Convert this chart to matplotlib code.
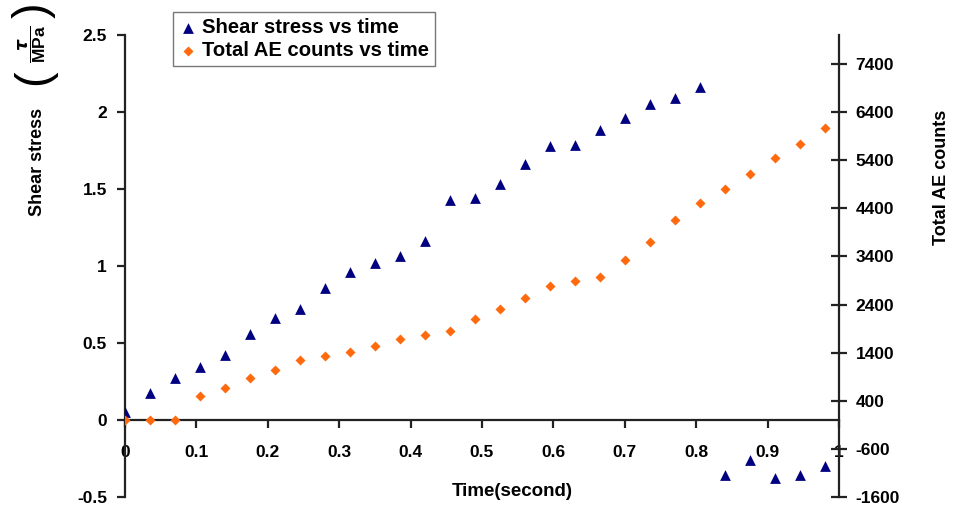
import matplotlib
matplotlib.use("Agg")
import matplotlib.pyplot as plt
from matplotlib.ticker import FixedLocator

plt.rcParams['font.family'] = 'Liberation Sans'
plt.rcParams['font.weight'] = 'bold'
plt.rcParams['mathtext.fontset'] = 'custom'
plt.rcParams['mathtext.rm'] = 'Liberation Sans'
plt.rcParams['mathtext.bf'] = 'Liberation Sans:bold'

# data
time_s = [0.0, 0.035, 0.07, 0.105, 0.14, 0.175, 0.21, 0.245, 0.28, 0.315,
          0.35, 0.385, 0.42, 0.455, 0.49, 0.525, 0.56, 0.595, 0.63, 0.665,
          0.70, 0.735, 0.77, 0.805, 0.84, 0.875, 0.91, 0.945, 0.98]
shear_mpa = [0.05, 0.175, 0.27, 0.345, 0.425, 0.56, 0.665, 0.72, 0.86, 0.96,
             1.02, 1.065, 1.16, 1.43, 1.44, 1.53, 1.665, 1.78, 1.785, 1.885,
             1.96, 2.05, 2.09, 2.165, -0.36, -0.26, -0.375, -0.355, -0.30]
ae_counts = [0, 0, 0, 500, 675, 865, 1040, 1240, 1325, 1415,
             1545, 1680, 1760, 1850, 2095, 2315, 2535, 2775, 2885, 2975,
             3325, 3690, 4160, 4500, 4795, 5110, 5435, 5745, 6070]

left_ticks = [-0.5, 0, 0.5, 1, 1.5, 2, 2.5]
left_labels = ['-0.5', '0', '0.5', '1', '1.5', '2', '2.5']
right_ticks = [-1600, -600, 400, 1400, 2400, 3400, 4400, 5400, 6400, 7400]
x_ticks = [0, 0.1, 0.2, 0.3, 0.4, 0.5, 0.6, 0.7, 0.8, 0.9, 1.0]
x_labels = ['0', '0.1', '0.2', '0.3', '0.4', '0.5', '0.6', '0.7', '0.8', '0.9', '1']

navy = '#000080'
orange = '#FF6A0F'
spine_col = '#222222'

fig = plt.figure(figsize=(9.56, 5.08), dpi=100)
ax = fig.add_axes([125 / 956, 1 - 497 / 508, (839 - 125) / 956, (497 - 35) / 508])
ax2 = ax.twinx()

h1 = ax.scatter(time_s, shear_mpa, marker='^', s=60, color=navy, linewidths=0,
                zorder=4, label='Shear stress vs time')
h2 = ax2.scatter(time_s, ae_counts, marker='D', s=26, color=orange, linewidths=0,
                 zorder=4, label='Total AE counts vs time')

ax.set_xlim(0, 1)
ax.set_ylim(-0.5, 2.5)
ax2.set_ylim(-1600, 8000)

for s in ['top', 'right']:
    ax.spines[s].set_visible(False)
for s in ['top', 'left', 'bottom']:
    ax2.spines[s].set_visible(False)
ax.spines['bottom'].set_position(('data', 0))
for sp in [ax.spines['left'], ax.spines['bottom'], ax2.spines['right']]:
    sp.set_color(spine_col)
    sp.set_linewidth(1.6)

ax.xaxis.set_major_locator(FixedLocator(x_ticks))
ax.set_xticklabels(x_labels)
ax.set_yticks(left_ticks)
ax.set_yticklabels(left_labels)
ax2.set_yticks(right_ticks)
ax2.set_yticklabels([str(v) for v in right_ticks])

ax.tick_params(axis='x', direction='out', length=6, width=1.6, color=spine_col,
               pad=12, labelsize=12.5)
ax.tick_params(axis='y', direction='out', length=6, width=1.6, color=spine_col,
               pad=7, labelsize=12.5)
ax2.tick_params(axis='y', direction='inout', length=12, width=1.6, color=spine_col,
                pad=6, labelsize=12.5)

fig.text(512 / 956, 1 - 491 / 508, 'Time(second)', ha='center', va='center',
         fontsize=13.5, fontweight='bold')
fig.text(37 / 956, 1 - 162 / 508, 'Shear stress', rotation=90, ha='center',
         va='center', fontsize=13, fontweight='bold')
# unit as a fraction between two large thin brackets
fig.text(32 / 956, 1 - 44 / 508, r'$\dfrac{\tau}{\mathbf{MPa}}$',
         rotation=90, ha='center', va='center', fontsize=12.5)
fig.text(34 / 956, 1 - 77 / 508, '(', rotation=90, ha='center', va='center',
         fontsize=34, fontweight='normal')
fig.text(34 / 956, 1 - 10 / 508, ')', rotation=90, ha='center', va='center',
         fontsize=34, fontweight='normal')
fig.text(942 / 956, 1 - 177 / 508, 'Total AE counts', rotation=90, ha='center',
         va='center', fontsize=13, fontweight='bold')

leg = ax2.legend([h1, h2], ['Shear stress vs time', 'Total AE counts vs time'],
                 loc='upper left', bbox_to_anchor=(173 / 956, 1 - 12 / 508),
                 bbox_transform=fig.transFigure, fancybox=False, frameon=True,
                 edgecolor='#555555', fontsize=14.6, handletextpad=0.25,
                 handlelength=0.9, borderpad=0.3, labelspacing=0.2,
                 borderaxespad=0, scatterpoints=1)
leg.get_frame().set_linewidth(1.0)
for t in leg.get_texts():
    t.set_fontweight('bold')

fig.savefig('out.png', dpi=100)
